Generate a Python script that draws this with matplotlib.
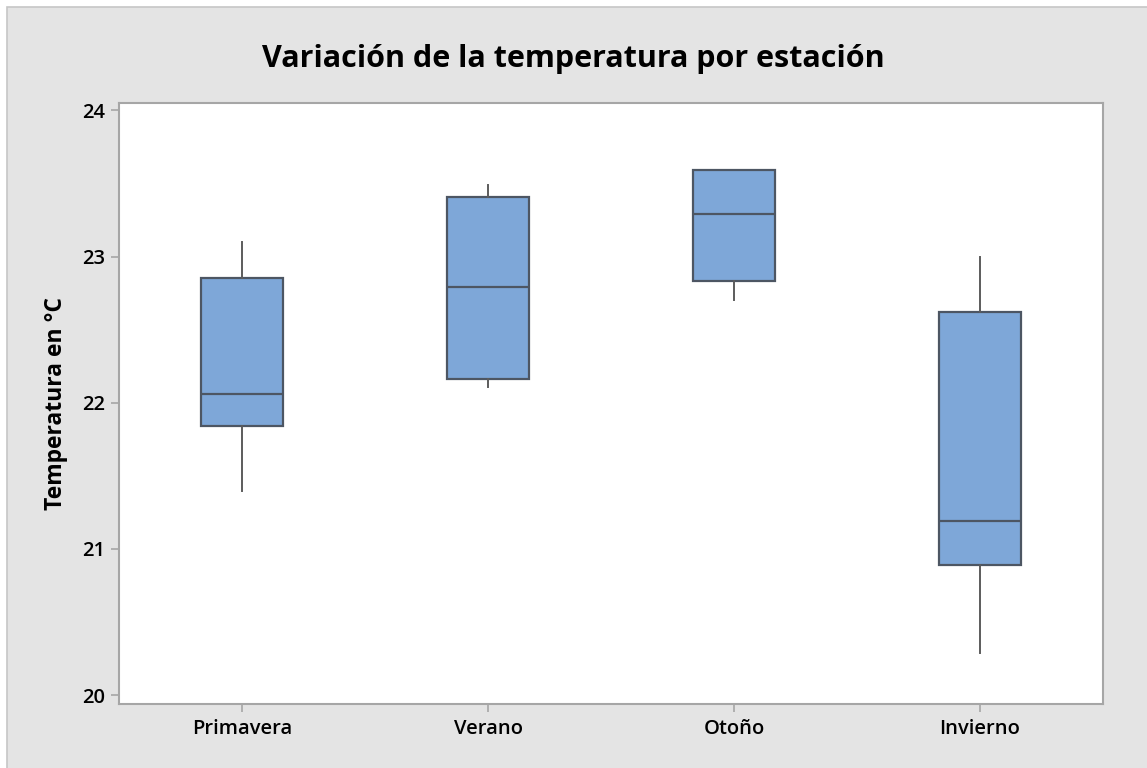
import matplotlib
matplotlib.use('Agg')
import matplotlib.pyplot as plt
from matplotlib.patches import Rectangle

# Summary statistics per season (degrees C)
seasons = ['Primavera', 'Verano', 'Otoño', 'Invierno']
whisker_low = [21.40, 22.11, 22.70, 20.29]
q1 = [21.84, 22.16, 22.83, 20.89]
median = [22.06, 22.79, 23.29, 21.19]
q3 = [22.85, 23.41, 23.59, 22.62]
whisker_high = [23.10, 23.49, 23.59, 23.00]

y_ticks = [20, 21, 22, 23, 24]

BG = '#e4e4e4'
SPINE = '#a6a6a6'
BOX_FILL = '#7ea7d8'
BOX_EDGE = '#4d5663'

plt.rcParams['font.family'] = ['Open Sans', 'DejaVu Sans']

fig = plt.figure(figsize=(11.47, 7.68), dpi=100, facecolor='white')

# Gray panel behind the plot, leaving a thin white strip top and left
fig.patches.append(Rectangle((7 / 1147, -0.01), 1.02, 1 - 7 / 768 + 0.01,
                             transform=fig.transFigure, facecolor=BG,
                             edgecolor='#c6c6c6', linewidth=1.2, zorder=-1))

ax = fig.add_axes([119 / 1147, 1 - 704 / 768, (1103 - 119) / 1147, (704 - 103) / 768])
ax.set_zorder(1)
ax.set_facecolor('white')

stats = []
for i, name in enumerate(seasons):
    stats.append({
        'label': name,
        'whislo': whisker_low[i],
        'q1': q1[i],
        'med': median[i],
        'q3': q3[i],
        'whishi': whisker_high[i],
        'fliers': [],
    })

ax.bxp(stats,
       positions=range(1, len(seasons) + 1),
       widths=0.333,
       patch_artist=True,
       showcaps=False,
       boxprops=dict(facecolor=BOX_FILL, edgecolor=BOX_EDGE, linewidth=1.6),
       medianprops=dict(color=BOX_EDGE, linewidth=1.6),
       whiskerprops=dict(color='#5c5c5c', linewidth=1.4))

ax.set_xlim(0.5, 4.5)
ax.set_ylim(19.94, 24.05)
ax.set_yticks(y_ticks)
ax.set_yticklabels([str(t) for t in y_ticks])

for s in ax.spines.values():
    s.set_color(SPINE)
    s.set_linewidth(1.5)

ax.tick_params(axis='both', colors=SPINE, length=6, width=1.2, direction='out')
for lab in ax.get_xticklabels() + ax.get_yticklabels():
    lab.set_color('black')
    lab.set_fontsize(14.5)
    lab.set_fontweight('semibold')
ax.tick_params(axis='y', pad=4)
ax.tick_params(axis='x', pad=5)

ax.set_ylabel('Temperatura en °C', fontsize=16.5, fontweight='bold', labelpad=10)

fig.text(0.5, 1 - 59 / 768, 'Variación de la temperatura por estación',
         ha='center', va='center', fontsize=22, fontweight='bold')

fig.savefig('out.png', dpi=100, facecolor=fig.get_facecolor())
